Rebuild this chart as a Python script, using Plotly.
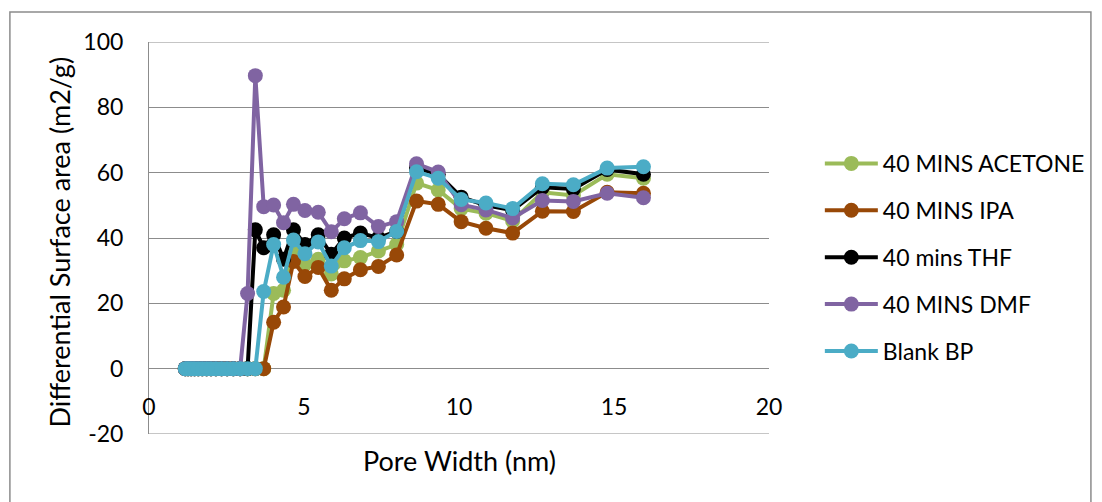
import plotly.graph_objects as go

pore_width = [1.17, 1.26, 1.36, 1.47, 1.59, 1.72, 1.86, 2.00, 2.16, 2.34, 2.52, 2.72, 2.94,
              3.18, 3.43, 3.70, 4.02, 4.34, 4.66, 5.03, 5.46, 5.88, 6.30, 6.82, 7.40, 7.99,
              8.63, 9.33, 10.07, 10.87, 11.73, 12.69, 13.69, 14.78, 15.95]

acetone = [0, 0, 0, 0, 0, 0, 0, 0, 0, 0, 0, 0, 0, 0, 0, 0,
           23, 24, 35.5, 32, 33.5, 29, 33, 34, 36, 38, 56.8, 54.7, 49, 47.6, 45.2, 54, 53, 59.5, 58.3]
ipa = [0, 0, 0, 0, 0, 0, 0, 0, 0, 0, 0, 0, 0, 0, 0, 0,
       14.2, 18.9, 32.8, 28.2, 31, 24, 27.5, 30.3, 31.3, 34.8, 51.3, 50.3, 45, 43, 41.5, 48.2, 48.1, 54, 53.7]
thf = [0, 0, 0, 0, 0, 0, 0, 0, 0, 0, 0, 0, 0, 0,
       42.5, 37, 41, 33.5, 42.5, 38, 41, 35, 40, 41.5, 40, 42, 61.5, 59.5, 52.5, 50, 48.5, 55.5, 55, 61, 59.5]
dmf = [0, 0, 0, 0, 0, 0, 0, 0, 0, 0, 0, 0, 0,
       23, 89.7, 49.6, 50.1, 44.7, 50.3, 48.4, 47.9, 41.9, 45.9, 47.7, 43.5, 45, 62.7, 60.2, 50.2, 48.6,
       46.1, 51.5, 51.2, 53.7, 52.3]
blank = [0, 0, 0, 0, 0, 0, 0, 0, 0, 0, 0, 0, 0, 0, 0,
         23.6, 38, 28, 39.4, 35.2, 38.8, 31.4, 37, 39.2, 38.9, 42, 60.3, 58.3, 51.8, 50.7, 49, 56.6,
         56.3, 61.4, 61.8]

series_names = ["40 MINS ACETONE", "40 MINS IPA", "40 mins THF", "40 MINS DMF", "Blank BP"]
series_values = [acetone, ipa, thf, dmf, blank]
series_colors = ["#9BBB59", "#984807", "#000000", "#8064A2", "#4BACC6"]

x_ticks = [0, 5, 10, 15, 20]
x_tick_labels = ["0", "5", "10", "15", "20"]
y_ticks = [-20, 0, 20, 40, 60, 80, 100]
y_tick_labels = ["-20", "0", "20", "40", "60", "80", "100"]

FONT = "Lato"
GRID = "#8C8C8C"

fig = go.Figure()
for name, vals, col in zip(series_names, series_values, series_colors):
    fig.add_trace(go.Scatter(
        x=pore_width, y=vals, name=name, mode="lines+markers",
        line=dict(color=col, width=4),
        marker=dict(color=col, size=15),
        legendgroup=name,
    ))

fig.update_layout(
    width=1094, height=494,
    margin=dict(l=141, r=329, t=34, b=68),
    paper_bgcolor="white", plot_bgcolor="white",
    font=dict(family=FONT, size=23, color="#000000"),
    showlegend=True,
    legend=dict(x=1.082, y=0.745, xanchor="left", yanchor="top",
                font=dict(family=FONT, size=23), tracegroupgap=14,
                itemwidth=53, bgcolor="rgba(0,0,0,0)"),
    xaxis=dict(range=[0, 20], tickvals=x_ticks, ticktext=x_tick_labels, showgrid=False,
               zeroline=False, showline=False, anchor="free", position=20 / 120, ticks="",
               ticklabelstandoff=22, tickfont=dict(family=FONT, size=23)),
    yaxis=dict(range=[-20, 100], tickvals=y_ticks, ticktext=y_tick_labels, showgrid=True,
               gridcolor=GRID, gridwidth=1,
               zeroline=True, zerolinecolor=GRID, zerolinewidth=1,
               showline=True, linecolor=GRID, linewidth=1, ticks="",
               ticklabelstandoff=20, tickfont=dict(family=FONT, size=23)),
    annotations=[
        dict(text="Pore Width (nm)", xref="paper", yref="paper", x=0.5, y=(434 - 460) / 392,
             xanchor="center", yanchor="middle", showarrow=False, font=dict(family=FONT, size=27)),
        dict(text="Differential Surface area (m2/g)", xref="paper", yref="paper",
             x=(59 - 149) / 624, y=0.49, textangle=-90, xanchor="center", yanchor="middle",
             showarrow=False, font=dict(family=FONT, size=27)),
    ],
    shapes=[
        dict(type="rect", xref="paper", yref="paper",
             x0=(9 - 149) / 624, x1=(1097 - 149) / 624, y0=(434 - 520) / 392, y1=(434 - 12) / 392,
             line=dict(color=GRID, width=1.5), fillcolor="rgba(0,0,0,0)", layer="below"),
        dict(type="line", xref="paper", yref="y", x0=0, x1=1, y0=-20, y1=-20,
             line=dict(color=GRID, width=1), layer="below"),
        dict(type="line", xref="paper", yref="y", x0=0, x1=1, y0=100, y1=100,
             line=dict(color=GRID, width=1), layer="below"),
    ],
)

fig.write_html("out.html")
